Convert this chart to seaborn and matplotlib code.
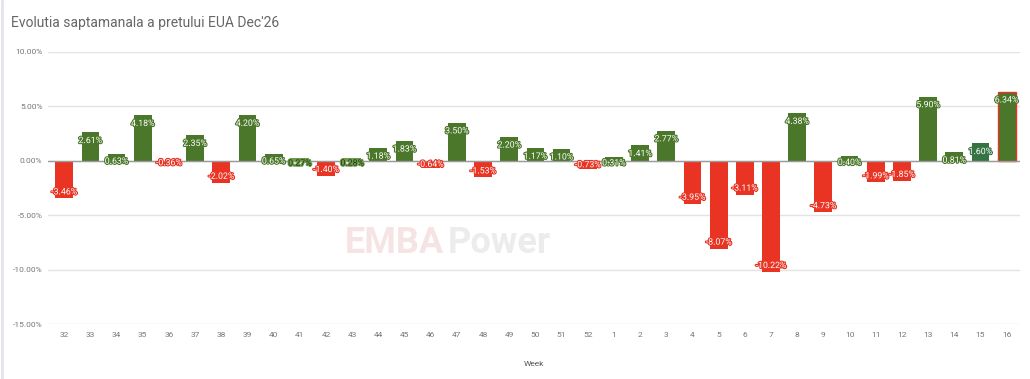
import matplotlib
matplotlib.use("Agg")
import matplotlib.pyplot as plt
import matplotlib.patheffects as pe
import seaborn as sns
import pandas as pd

weeks = ["32", "33", "34", "35", "36", "37", "38", "39", "40", "41", "42", "43",
         "44", "45", "46", "47", "48", "49", "50", "51", "52", "1", "2", "3",
         "4", "5", "6", "7", "8", "9", "10", "11", "12", "13", "14", "15", "16"]
changes = [-3.46, 2.61, 0.63, 4.18, -0.36, 2.35, -2.02, 4.20, 0.65, 0.27, -1.40, 0.28,
           1.18, 1.83, -0.64, 3.50, -1.53, 2.20, 1.17, 1.10, -0.73, 0.31, 1.41, 2.77,
           -3.95, -8.07, -3.11, -10.22, 4.38, -4.73, 0.40, -1.99, -1.85, 5.90, 0.81, 1.60, 6.34]
yticks = [10, 5, 0, -5, -10, -15]

GREEN = "#4a7729"
RED = "#e93323"
LIGHT_GREEN = "#6f9a4e"
TEAL_GREEN = "#367342"

colors = []
for w, v in zip(weeks, changes):
    if w in ("41", "43"):
        colors.append(LIGHT_GREEN)
    elif w == "15":
        colors.append(TEAL_GREEN)
    elif v >= 0:
        colors.append(GREEN)
    else:
        colors.append(RED)

df = pd.DataFrame({"Week": weeks, "Change": changes})

sns.set_theme(style="white")
plt.rcParams['font.family'] = ['Roboto', 'DejaVu Sans']

fig = plt.figure(figsize=(10.30, 3.79), dpi=100)
ax = fig.add_axes([0.0466, 0.1451, 0.9434, 0.7177])

sns.barplot(data=df, x="Week", y="Change", hue="Week", order=weeks, hue_order=weeks,
            palette=dict(zip(weeks, colors)), legend=False, width=0.68, ax=ax,
            saturation=1, edgecolor="none")

# red outline on last bar
for p, w in zip(ax.patches, weeks):
    if w == "16":
        p.set_edgecolor(RED)
        p.set_linewidth(1.0)

ax.set_ylim(-15, 10)
ax.set_xlim(-0.62, len(weeks) - 0.5)
ax.set_yticks(yticks)
ax.set_yticklabels([f"{t:.2f}%" for t in yticks], fontsize=6, color="#777777")
ax.tick_params(axis="x", labelsize=6, labelcolor="#777777", length=0, pad=6)
ax.tick_params(axis="y", length=0, pad=4)
ax.grid(axis="y", color="#e3e3e3", linewidth=1.0)
ax.set_axisbelow(True)
ax.axhline(0, color="#9a9a9a", linewidth=1.0, zorder=3)
for s in ax.spines.values():
    s.set_visible(False)
ax.set_ylabel("")
ax.set_xlabel("Week", fontsize=6, color="#555555", labelpad=16)

# value labels
for i, (v, c) in enumerate(zip(changes, colors)):
    off = -0.75 if v >= 0 else 0.6
    ypos = v + off
    if abs(v) < 1:
        ypos = v * 0.5 + (-0.35 if v >= 0 else 0.0)
    txt_color = "#1e3b10" if c == LIGHT_GREEN else "white"
    ax.text(i, ypos, f"{v:.2f}%", ha="center", va="center", fontsize=6.3,
            color=txt_color, zorder=5,
            path_effects=[pe.withStroke(linewidth=1.6, foreground=c)])

# watermark
t1 = fig.text(0.335, 0.36, "EMBA", fontsize=26, color="#f6e4e4", fontweight="bold",
              ha="left", va="center", zorder=0)
fig.canvas.draw()
bb = t1.get_window_extent(renderer=fig.canvas.get_renderer())
x_after = bb.x1 / fig.bbox.width + 0.003
fig.text(x_after, 0.36, "Power", fontsize=26, color="#ececec", fontweight="bold",
         ha="left", va="center", zorder=0)

fig.text(0.0107, 0.94, "Evolutia saptamanala a pretului EUA Dec'26", fontsize=10,
         color="#666666", ha="left", va="center")

# page border line on the left
fig.add_artist(plt.Line2D([0.002, 0.002], [0, 1], color="#e4e4ea", linewidth=2,
                          transform=fig.transFigure))

fig.savefig("out.png", dpi=100)
